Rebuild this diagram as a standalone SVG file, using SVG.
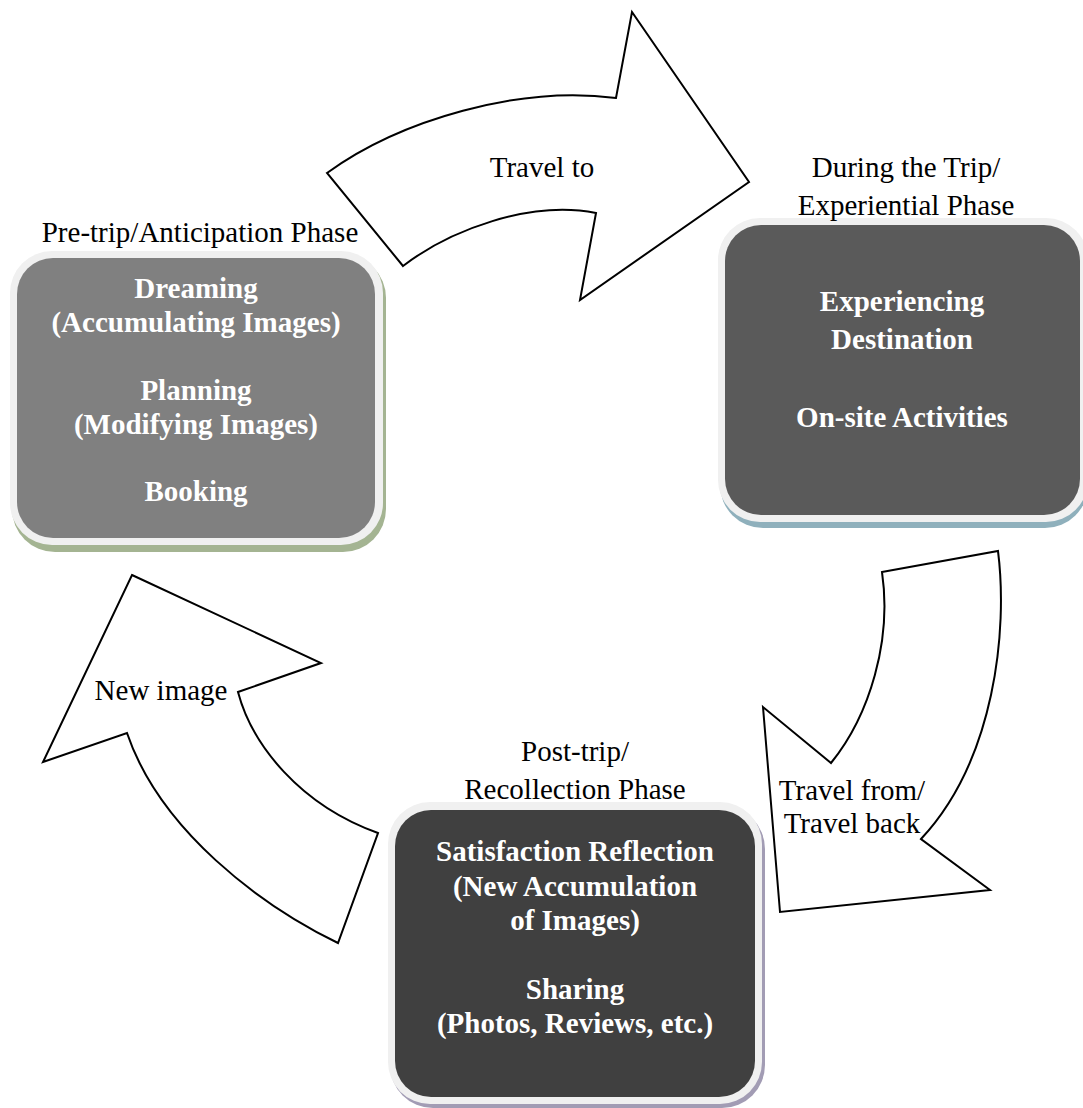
<svg xmlns="http://www.w3.org/2000/svg" width="1083" height="1108" viewBox="0 0 1083 1108">
  <style>
    .arrow { fill: #ffffff; stroke: #000000; stroke-width: 2; stroke-linejoin: miter; }
    .label { font-family: "Liberation Serif", "Times New Roman", serif; font-size: 29px; fill: #000000; text-anchor: middle; }
    .body { font-family: "Liberation Serif", "Times New Roman", serif; font-size: 29px; font-weight: bold; fill: #ffffff; text-anchor: middle; }
    .rim { fill: #f0f0f0; }
  </style>
  <rect width="1083" height="1108" fill="#ffffff"/>

  <!-- curved block arrows between the phases -->
  <g id="connectors">
    <g id="travel-to">
      <path class="arrow" d="M327,173 C400,120 520,85 616,98 L632,12 L749,182 L580,300 L596,213 C530,200 450,230 403,266 Z"/>
      <text class="label" x="542" y="177">Travel to</text>
    </g>
    <g id="travel-back">
      <path class="arrow" d="M882,572 L998,551 C1008,630 995,760 921,839 L990,890 L780,912 L763,707 L831,763 C870,715 892,640 882,572 Z"/>
      <text class="label" x="852" y="800">Travel from/</text>
      <text class="label" x="852" y="833">Travel back</text>
    </g>
    <g id="new-image">
      <path class="arrow" d="M132,575 L321,663 L238,692 C252,745 300,805 378,833 L338,943 C260,905 160,830 127,733 L43,762 Z"/>
      <text class="label" x="161" y="700">New image</text>
    </g>
  </g>

  <!-- pre-trip phase -->
  <g id="pre-trip">
    <rect x="12" y="255" width="374" height="297" rx="43" fill="#a4b492"/>
    <rect class="rim" x="10" y="251" width="373" height="294" rx="42"/>
    <rect x="17" y="258" width="358" height="280" rx="36" fill="#808080"/>
    <text class="label" x="200" y="242">Pre-trip/Anticipation Phase</text>
    <text class="body" x="196" y="298">Dreaming</text>
    <text class="body" x="196" y="332">(Accumulating Images)</text>
    <text class="body" x="196" y="400">Planning</text>
    <text class="body" x="196" y="434">(Modifying Images)</text>
    <text class="body" x="196" y="501">Booking</text>
  </g>

  <!-- during-the-trip phase -->
  <g id="during-trip">
    <rect x="720" y="222" width="368" height="306" rx="43" fill="#8fb0bc"/>
    <rect class="rim" x="718" y="218" width="370" height="304" rx="42"/>
    <rect x="725" y="225" width="355" height="290" rx="36" fill="#5a5a5a"/>
    <text class="label" x="906" y="177">During the Trip/</text>
    <text class="label" x="906" y="215">Experiential Phase</text>
    <text class="body" x="902" y="311">Experiencing</text>
    <text class="body" x="902" y="349">Destination</text>
    <text class="body" x="902" y="427">On-site Activities</text>
  </g>

  <!-- post-trip phase -->
  <g id="post-trip">
    <rect x="390" y="806" width="375" height="302" rx="43" fill="#a29cb4"/>
    <rect class="rim" x="388" y="802" width="374" height="302" rx="42"/>
    <rect x="395" y="810" width="360" height="287" rx="36" fill="#404040"/>
    <text class="label" x="575" y="761">Post-trip/</text>
    <text class="label" x="575" y="799">Recollection Phase</text>
    <text class="body" x="575" y="861">Satisfaction Reflection</text>
    <text class="body" x="575" y="896">(New Accumulation</text>
    <text class="body" x="575" y="930">of Images)</text>
    <text class="body" x="575" y="999">Sharing</text>
    <text class="body" x="575" y="1033">(Photos, Reviews, etc.)</text>
  </g>
</svg>
